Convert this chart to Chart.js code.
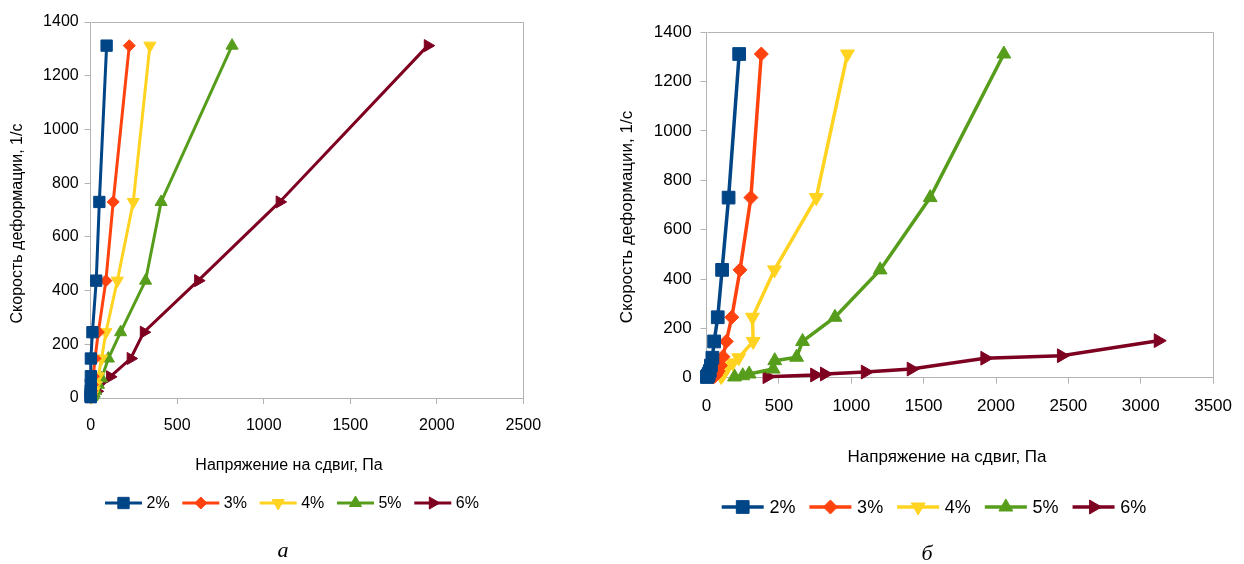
<!DOCTYPE html>
<html>
<head>
<meta charset="utf-8">
<script src="https://cdn.jsdelivr.net/npm/chart.js"></script>
<style>
    body { margin: 0; background: #fff; width: 1244px; height: 564px; position: relative; overflow: hidden; }
    canvas { position: absolute; top: 0; }
    #chartA { left: 0; }
    #chartB { left: 620px; }
    .caption { position: absolute; font: italic 22px "Liberation Serif", serif; transform: translate(-50%, -50%); }
</style>
</head>
<body>
<canvas id="chartA" width="620" height="564"></canvas>
<canvas id="chartB" width="624" height="564"></canvas>
<div class="caption" style="left:283px; top:550px;">а</div>
<div class="caption" style="left:927px; top:553px;">б</div>
<script>
// Series
const seriesNames = ['2%', '3%', '4%', '5%', '6%'];
const seriesColors = ['#004586', '#ff420e', '#ffd320', '#579d1c', '#7e0021'];
const markerStyles = ['rect', 'rectRot', 'triangle', 'triangle', 'triangle'];
const markerRotation = [0, 0, 180, 0, 90];

// Tick labels
const yTicks = [0, 200, 400, 600, 800, 1000, 1200, 1400];
const xTicksA = [0, 500, 1000, 1500, 2000, 2500];
const xTicksB = [0, 500, 1000, 1500, 2000, 2500, 3000, 3500];

// Chart a: shear stress (Pa) / shear rate (1/s)
const stressA2 = [92, 50, 32, 10, 1, 1, 0.5, 0.3, 0.2, 0.1, 0, 0];
const rateA2 = [1312, 730, 437, 245, 147, 81, 49, 27, 16, 9, 5, 3];
const stressA3 = [223, 130, 88, 44, 25, 15, 10, 6, 4, 2, 1, 0.5];
const rateA3 = [1312, 730, 437, 245, 147, 81, 49, 27, 16, 9, 5, 3];
const stressA4 = [342, 246, 154, 88, 63, 44, 30, 20, 12, 8, 5, 3];
const rateA4 = [1312, 730, 437, 245, 147, 81, 49, 27, 16, 9, 5, 3];
const stressA5 = [817, 407, 317, 173, 102, 63, 45, 30, 20, 12, 8, 5];
const rateA5 = [1312, 730, 437, 245, 147, 73, 49, 27, 16, 9, 5, 3];
const stressA6 = [1948, 1092, 621, 307, 231, 112, 35];
const rateA6 = [1312, 730, 437, 245, 147, 79, 25];

// Chart b
const stressB2 = [225, 152, 107, 77, 52, 40, 30, 22, 15, 10, 5, 2];
const rateB2 = [1312, 730, 437, 245, 147, 81, 49, 27, 16, 9, 5, 3];
const stressB3 = [378, 306, 231, 174, 136, 113, 95, 80, 69, 60, 52, 45];
const rateB3 = [1312, 730, 437, 245, 147, 85, 49, 27, 18, 9, 5, 3];
const stressB4 = [973, 758, 469, 317, 322, 222, 180, 147, 130, 118, 110, 100];
const rateB4 = [1312, 730, 437, 245, 147, 81, 60, 45, 30, 19, 10, 5];
const stressB5 = [2054, 1545, 1199, 887, 663, 622, 471, 460, 294, 250, 193];
const rateB5 = [1312, 730, 437, 245, 147, 83, 69, 35, 15, 8, 3];
const stressB6 = [3121, 2452, 1923, 1414, 1097, 815, 747, 418];
const rateB6 = [150, 89, 79, 35, 23, 15, 11, 4];

const fontFamily = '"Liberation Sans", Arial, sans-serif';

// Frame, axis titles and legend (line + marker)
const decorPlugin = {
    id: 'decor',
    afterDraw(chart, args, opts) {
        const ctx = chart.ctx;
        const area = chart.chartArea;
        ctx.save();
        ctx.strokeStyle = '#b3b3b3';
        ctx.lineWidth = 1;
        const l = Math.round(area.left) + 0.5, t = Math.round(area.top) + 0.5;
        const r = Math.round(area.right) + 0.5, b = Math.round(area.bottom) + 0.5;
        ctx.beginPath();
        ctx.moveTo(l, t); ctx.lineTo(r, t); ctx.lineTo(r, b);
        ctx.stroke();

        ctx.fillStyle = '#000';
        ctx.textAlign = 'center';
        ctx.textBaseline = 'middle';
        ctx.font = opts.titleSize + 'px ' + fontFamily;
        ctx.fillText(opts.xTitle, opts.xTitleX, opts.xTitleY);
        ctx.save();
        ctx.translate(opts.yTitleX, opts.yTitleY);
        ctx.rotate(-Math.PI / 2);
        ctx.fillText(opts.yTitle, 0, 0);
        ctx.restore();

        // legend
        ctx.font = opts.legendSize + 'px ' + fontFamily;
        ctx.textAlign = 'left';
        let x = opts.legendX;
        const y = opts.legendY;
        chart.data.datasets.forEach(ds => {
            ctx.strokeStyle = ds.borderColor;
            ctx.lineWidth = ds.borderWidth;
            ctx.beginPath();
            ctx.moveTo(x, y);
            ctx.lineTo(x + opts.lineLen, y);
            ctx.stroke();
            ctx.fillStyle = ds.backgroundColor;
            ctx.lineWidth = 1;
            Chart.helpers.drawPoint(ctx, {
                pointStyle: ds.pointStyle,
                rotation: ds.pointRotation,
                radius: ds.pointRadius,
                borderWidth: 1
            }, x + opts.lineLen / 2, y);
            x += opts.lineLen + opts.textGap;
            ctx.fillStyle = '#000';
            ctx.fillText(ds.label, x, y + 1);
            x += ctx.measureText(ds.label).width + opts.itemGap;
        });
        ctx.restore();
    }
};

function makeDatasets(stressList, rateList, radii, lineWidth) {
    return seriesNames.map((name, i) => ({
        label: name,
        data: stressList[i].map((s, j) => ({ x: s, y: rateList[i][j] })),
        showLine: true,
        clip: false,
        borderColor: seriesColors[i],
        backgroundColor: seriesColors[i],
        borderWidth: lineWidth,
        pointStyle: markerStyles[i],
        pointRotation: markerRotation[i],
        pointRadius: radii[i],
        pointHoverRadius: radii[i],
        pointBorderWidth: 1
    }));
}

function makeChart(id, datasets, cfg) {
    const axisGrid = { drawOnChartArea: false, drawTicks: true, tickLength: 6, color: '#b3b3b3', lineWidth: 1 };
    const plain = v => String(v);
    return new Chart(document.getElementById(id), {
        type: 'scatter',
        data: { datasets: datasets },
        options: {
            responsive: false,
            animation: false,
            devicePixelRatio: 1,
            layout: { padding: cfg.padding },
            plugins: {
                legend: { display: false },
                tooltip: { enabled: false },
                decor: cfg.decor
            },
            scales: {
                x: {
                    type: 'linear',
                    min: cfg.xTicks[0],
                    max: cfg.xTicks[cfg.xTicks.length - 1],
                    afterBuildTicks: s => { s.ticks = cfg.xTicks.map(v => ({ value: v })); },
                    afterFit: s => { s.height = cfg.xHeight; },
                    grid: axisGrid,
                    border: { color: '#b3b3b3', width: 1 },
                    ticks: { callback: plain, color: '#000', padding: cfg.xPad, maxRotation: 0, autoSkip: false, font: { family: fontFamily, size: cfg.tickSize } }
                },
                y: {
                    type: 'linear',
                    min: yTicks[0],
                    max: yTicks[yTicks.length - 1],
                    afterBuildTicks: s => { s.ticks = yTicks.map(v => ({ value: v })); },
                    afterFit: s => { s.width = cfg.yWidth; },
                    grid: axisGrid,
                    border: { color: '#b3b3b3', width: 1 },
                    ticks: { callback: plain, color: '#000', padding: cfg.yPad, autoSkip: false, font: { family: fontFamily, size: cfg.tickSize } }
                }
            }
        },
        plugins: [decorPlugin]
    });
}

document.addEventListener("DOMContentLoaded", function() {
    const xTitle = 'Напряжение на сдвиг, Па';
    const yTitle = 'Скорость деформации, 1/с';

    makeChart('chartA',
        makeDatasets([stressA2, stressA3, stressA4, stressA5, stressA6],
                     [rateA2, rateA3, rateA4, rateA5, rateA6], [8, 6, 7, 7, 7], 3), {
        padding: { left: 0, top: 22, right: 96.7, bottom: 126 },
        xTicks: xTicksA, xHeight: 40, yWidth: 90.7, xPad: 12, yPad: 6, tickSize: 16,
        decor: {
            xTitle: xTitle, yTitle: yTitle, titleSize: 16,
            xTitleX: 289, xTitleY: 466, yTitleX: 18, yTitleY: 223.5,
            legendX: 105, legendY: 503, lineLen: 37, textGap: 4.5, itemGap: 12.7, legendSize: 16
        }
    });

    makeChart('chartB',
        makeDatasets([stressB2, stressB3, stressB4, stressB5, stressB6],
                     [rateB2, rateB3, rateB4, rateB5, rateB6], [9, 7, 8, 8, 8], 3.5), {
        padding: { left: 0, top: 32.3, right: 21.3, bottom: 146.3 },
        xTicks: xTicksB, xHeight: 40, yWidth: 86.6, xPad: 12, yPad: 9, tickSize: 17,
        decor: {
            xTitle: xTitle, yTitle: yTitle, titleSize: 17,
            xTitleX: 327, xTitleY: 457, yTitleX: 7, yTitleY: 217,
            legendX: 101.7, legendY: 507, lineLen: 42, textGap: 5.7, itemGap: 14, legendSize: 18
        }
    });
});
</script>
</body>
</html>
